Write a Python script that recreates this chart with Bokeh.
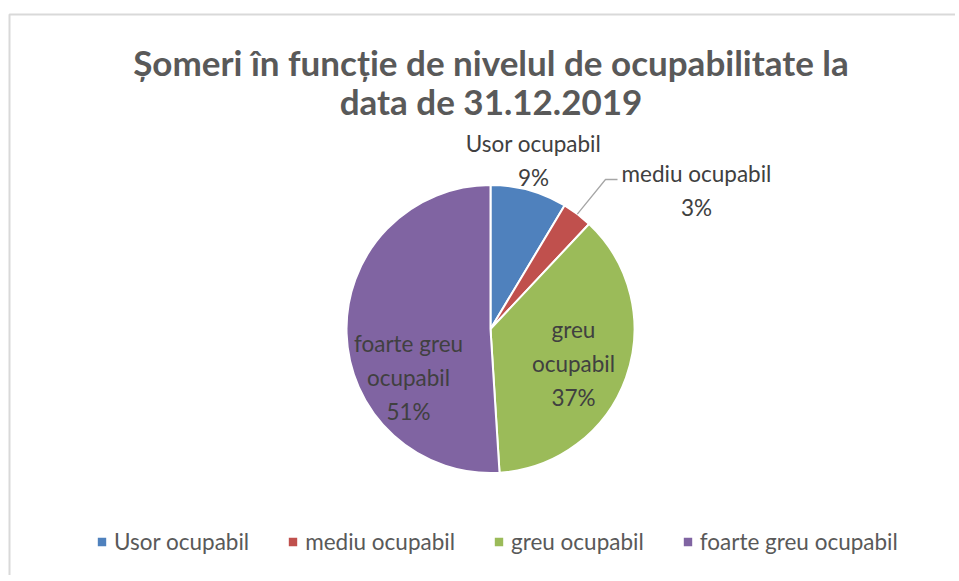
import numpy as np
from bokeh.plotting import figure
from bokeh.models import Range1d, ColumnDataSource, Legend, LegendItem
from bokeh.core.properties import value
from bokeh.embed import file_html
from bokeh.resources import INLINE

# ---- data ----
categories = ["Usor ocupabil", "mediu ocupabil", "greu ocupabil", "foarte greu ocupabil"]
shares = [8.6, 3.4, 37.0, 51.0]
colors = ["#4F81BD", "#C0504D", "#9BBB59", "#8064A2"]
slice_names = ["Usor ocupabil", "mediu ocupabil", "greu\nocupabil", "foarte greu\nocupabil"]
title_lines = ["Șomeri în funcție de nivelul de ocupabilitate la", "data de 31.12.2019"]

W, H = 955, 575
FONT = "Lato"


def X(px):
    return px


def Y(py):
    return H - py


cx, cy, R = X(490), Y(328.5), 144

frac = np.array(shares) / sum(shares)
cum = np.concatenate([[0.0], np.cumsum(frac)])
start = np.pi / 2 - 2 * np.pi * cum[:-1]
end = np.pi / 2 - 2 * np.pi * cum[1:]
mid = (start + end) / 2

p = figure(width=W, height=H, x_range=Range1d(0, W), y_range=Range1d(0, H),
           x_axis_type=None, y_axis_type=None, min_border=0,
           toolbar_location=None, output_backend="svg")
p.outline_line_color = None
p.background_fill_color = "white"
p.border_fill_color = "white"

# chart border (partially off-page, as in the reference)
p.line(x=[X(9), X(9), X(3000)], y=[Y(3000), Y(14), Y(14)], line_color="#d9d9d9", line_width=2)

src = ColumnDataSource(dict(cat=categories, share=shares, color=colors,
                            start=start, end=end))
wr = p.wedge(x=cx, y=cy, radius=R, start_angle="start", end_angle="end",
             direction="clock", fill_color="color", line_color="white",
             line_width=2, source=src)

# leader line for the small slice
i = 1
sx, sy = cx + R * np.cos(mid[i]), cy + R * np.sin(mid[i])
p.line(x=[sx, X(605), X(617)], y=[sy, Y(179), Y(179)], line_color="#a6a6a6", line_width=1.3)

# data labels
label_pos = [(533, 160), (696, 190), (573, 363), (408, 377)]
texts = [f"{n}\n{round(s)}%" for n, s in zip(slice_names, shares)]
p.text(x=[X(a) for a, b in label_pos], y=[Y(b) for a, b in label_pos], text=texts,
       text_align="center", text_baseline="middle", text_font=value(FONT),
       text_font_size="22.5px", text_color="#404040", text_line_height=1.25)

# title
p.text(x=[X(490.5), X(490.5)], y=[Y(61), Y(100)], text=title_lines,
       text_align="center", text_baseline="middle", text_font=value(FONT),
       text_font_size="35px", text_font_style="bold", text_color="#595959")

legend = Legend(items=[LegendItem(label=c, renderers=[wr], index=k) for k, c in enumerate(categories)],
                orientation="horizontal", location=(X(95), 20), glyph_width=13, glyph_height=13,
                label_standoff=6, spacing=37, padding=0, margin=0,
                border_line_color=None, background_fill_alpha=0,
                label_text_font=FONT, label_text_font_size="22.5px", label_text_color="#595959")
p.add_layout(legend, "center")

open("out.html", "w").write(file_html(p, INLINE))
